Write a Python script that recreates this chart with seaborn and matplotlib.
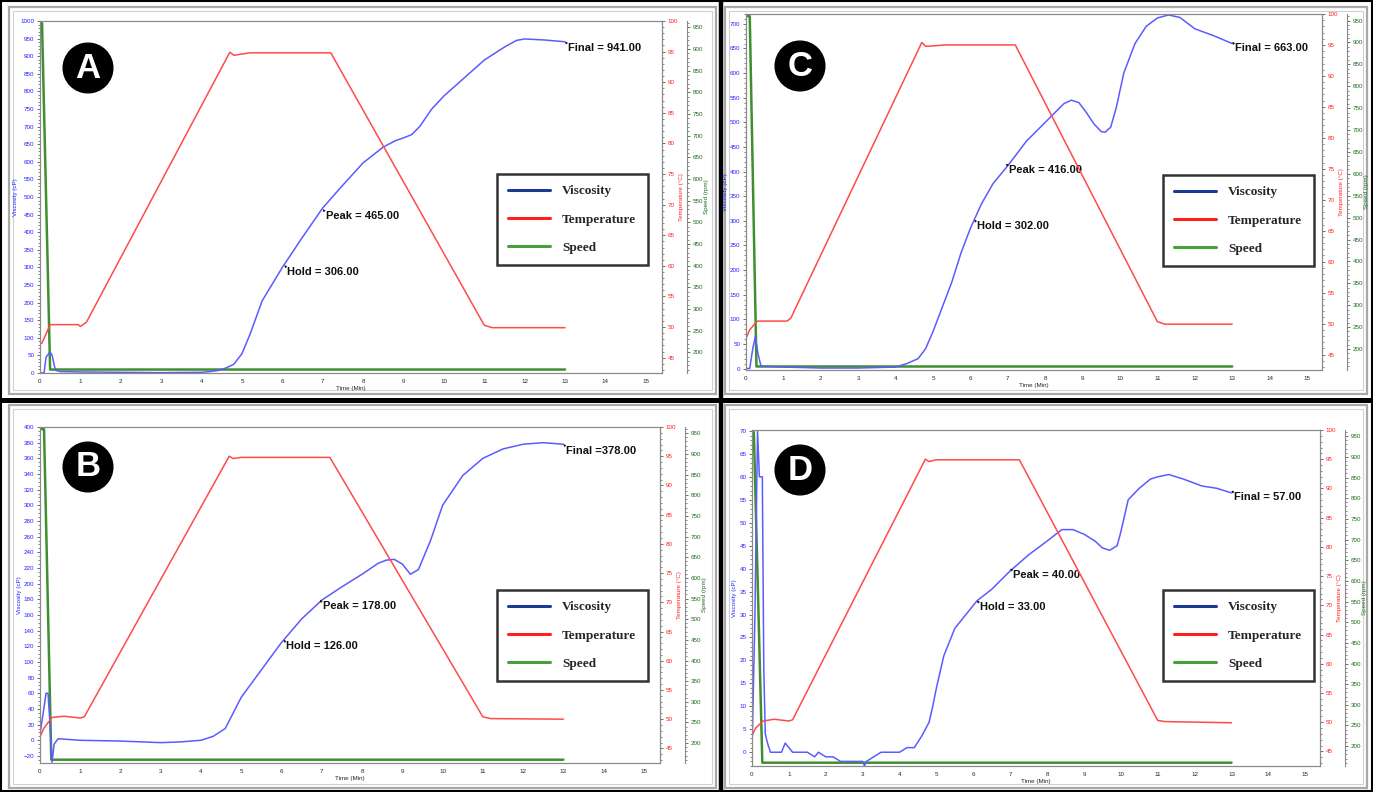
import numpy as np
import pandas as pd
import seaborn as sns
import matplotlib.pyplot as plt
from matplotlib.lines import Line2D
from matplotlib.patches import Rectangle
from matplotlib.ticker import MultipleLocator

# ---- Panel A ----
a_visc_t = [0, 0.1, 0.15, 0.25, 0.3, 0.38, 0.5, 1, 2, 3, 4, 4.2, 4.4, 4.6, 4.8, 5.0, 5.2, 5.5,
            6.0, 6.5, 7.0, 7.5, 8.0, 8.5, 8.8, 9.0, 9.2, 9.4, 9.7, 10.0, 10.5, 11.0, 11.5, 11.8,
            12.0, 12.5, 13.0]
a_visc = [0, 0, 45, 60, 50, 8, 4, 3, 2, 1, 2, 4, 7, 14, 25, 55, 110, 205,
          300, 386, 469, 534, 597, 642, 660, 668, 677, 700, 750, 787, 838, 889, 926, 945,
          949, 946, 941]
a_temp_t = [0, 0.05, 0.25, 0.95, 1.0, 1.15, 4.7, 4.8, 4.9, 5.2, 7.2, 11.0, 11.2, 13.0]
a_temp = [47.2, 47.4, 50.4, 50.4, 50.1, 50.8, 94.9, 94.4, 94.5, 94.8, 94.8, 50.3, 49.9, 49.9]
a_speed_t = [0, 0.05, 0.25, 13.0]
a_speed = [960, 960, 160, 160]
a_notes = [("Hold = 306.00", 6.05, 306), ("Peak = 465.00", 7.0, 465), ("Final = 941.00", 13.0, 941)]

# ---- Panel B ----
b_visc_t = [0, 0.08, 0.15, 0.2, 0.25, 0.3, 0.35, 0.45, 1, 2, 3, 3.5, 4, 4.3, 4.6, 4.8, 5.0,
            5.5, 6.0, 6.5, 7.0, 7.5, 8.0, 8.4, 8.6, 8.8, 9.0, 9.2, 9.4, 9.7, 10.0, 10.5, 11.0,
            11.5, 12.0, 12.5, 13.0]
b_visc = [8, 35, 60, 60, 20, -28, -5, 2, 0, -1, -3, -2, 0, 5, 15, 35, 55,
          90, 125, 155, 179, 196, 212, 226, 230, 231, 225, 212, 218, 255, 300, 338, 360,
          372, 378, 380, 378]
b_temp_t = [0, 0.1, 0.3, 0.6, 1.0, 1.1, 4.7, 4.8, 5.0, 7.2, 11.0, 11.2, 13.0]
b_temp = [47.0, 48.5, 50.3, 50.5, 50.2, 50.4, 95.0, 94.6, 94.8, 94.8, 50.4, 50.1, 50.0]
b_speed_t = [0, 0.1, 0.28, 13.0]
b_speed = [960, 960, 160, 160]
b_notes = [("Hold = 126.00", 6.05, 128), ("Peak = 178.00", 6.95, 179), ("Final =378.00", 13.0, 378)]

# ---- Panel C ----
c_visc_t = [0, 0.1, 0.18, 0.25, 0.32, 0.4, 1, 2, 3, 4.0, 4.3, 4.6, 4.8, 5.0, 5.25, 5.5, 5.75,
            6.0, 6.3, 6.6, 7.0, 7.5, 8.0, 8.5, 8.7, 8.9, 9.1, 9.3, 9.5, 9.6, 9.75, 9.9, 10.1,
            10.4, 10.7, 11.0, 11.3, 11.6, 12.0, 12.5, 13.0]
c_visc = [0, 0, 40, 65, 30, 5, 3, 1, 1, 3, 10, 20, 40, 75, 125, 175, 235,
          285, 335, 375, 412, 462, 500, 538, 545, 540, 520, 497, 481, 480, 490, 530, 600,
          660, 695, 712, 718, 713, 690, 676, 660]
c_temp_t = [0, 0.1, 0.3, 1.1, 1.2, 4.7, 4.8, 4.9, 5.3, 7.2, 11.0, 11.2, 13.0]
c_temp = [47.6, 49.0, 50.4, 50.4, 50.9, 95.4, 94.8, 94.8, 95.0, 95.0, 50.3, 49.9, 49.9]
c_speed_t = [0, 0.1, 0.28, 13.0]
c_speed = [960, 960, 160, 160]
c_notes = [("Hold = 302.00", 6.1, 302), ("Peak = 416.00", 6.95, 416), ("Final = 663.00", 13.0, 663)]

# ---- Panel D ----
d_visc_t = [0, 0.08, 0.15, 0.2, 0.28, 0.32, 0.36, 0.42, 0.5, 0.7, 0.8, 0.9, 1.0, 1.1, 1.5,
            1.7, 1.8, 2.0, 2.2, 2.4, 2.6, 3.0, 3.05, 3.1, 3.3, 3.5, 3.7, 4.0, 4.2, 4.4, 4.6,
            4.8, 4.9, 5.0, 5.2, 5.5, 5.8, 6.1, 6.5, 7.0, 7.5, 8.0, 8.4, 8.7, 9.0, 9.3, 9.5,
            9.7, 9.9, 10.0, 10.2, 10.5, 10.8, 11.0, 11.3, 11.7, 12.2, 12.6, 13.0]
d_visc = [0, 30, 70, 60, 60, 18, 4, 2, 0, 0, 0, 2, 1, 0, 0,
          -1, 0, -1, -1, -2, -2, -2, -3, -2, -1, 0, 0, 0, 1, 1, 3.5,
          6.5, 10, 14, 21, 27, 30, 33, 35.5, 39.5, 43, 46, 48.5, 48.5, 47.5, 46, 44.5,
          44, 45, 48, 55, 57.5, 59.5, 60, 60.5, 59.5, 58, 57.5, 56.5]
d_temp_t = [0, 0.1, 0.3, 0.6, 1.0, 1.1, 4.7, 4.8, 5.0, 7.25, 11.0, 11.2, 13.0]
d_temp = [47.7, 49.0, 50.2, 50.5, 50.2, 50.4, 95.0, 94.6, 94.9, 94.9, 50.3, 50.1, 49.9]
d_speed_t = [0, 0.05, 0.28, 13.0]
d_speed = [960, 960, 160, 160]
d_notes = [("Hold = 33.00", 6.1, 33), ("Peak = 40.00", 7.0, 40), ("Final = 57.00", 13.0, 57)]

legend_labels = ["Viscosity", "Temperature", "Speed"]

W, H = 1373, 792
VISC_C = "#5b5bff"
TEMP_C = "#ff4a4a"
SPEED_C = "#3f8f30"

sns.set_style("white")
plt.rcParams['font.family'] = ['Liberation Sans', 'DejaVu Sans']

fig = plt.figure(figsize=(W / 100, H / 100), dpi=100)


def px_rect(x0, y0, x1, y1):
    return [x0 / W, 1 - y1 / H, (x1 - x0) / W, (y1 - y0) / H]


def style_axis(axis, color, size=4.5):
    axis.tick_params(axis='y', labelsize=size, labelcolor=color, length=2.5, width=0.6,
                     color='#555555', pad=1.5)
    axis.tick_params(axis='y', which='minor', length=1.5, width=0.5, color='#555555')


def draw_panel(rect, letter, letter_xy, vt, v, tt, temp, st, speed, vlim, vstep, vminor,
               vlo, vhi, notes, leg_xy):
    ax = fig.add_axes(px_rect(*rect))
    ax_t = ax.twinx()
    ax_s = ax.twinx()

    sns.lineplot(x=tt, y=temp, ax=ax_t, color=TEMP_C, linewidth=1.1, estimator=None, sort=False)
    sns.lineplot(x=st, y=speed, ax=ax_s, color=SPEED_C, linewidth=1.8, estimator=None, sort=False)
    sns.lineplot(x=vt, y=v, ax=ax, color=VISC_C, linewidth=1.1, estimator=None, sort=False)
    ax.set_zorder(ax_s.get_zorder() + 1)
    ax.patch.set_visible(False)
    ax_t.set_zorder(ax.get_zorder() + 1)

    ax.set_xlim(0, 15.4)
    ax.set_ylim(*vlim)
    ax.set_yticks(np.arange(vlo, vhi + 0.1, vstep))
    ax.yaxis.set_minor_locator(MultipleLocator(vminor))
    ax.set_xticks(np.arange(0, 16, 1))
    ax.tick_params(axis='x', labelsize=4.5, length=2.5, width=0.6, color='#555555', pad=1.5)
    style_axis(ax, '#2222ff')
    ax.set_xlabel("Time (Min)", fontsize=4.5, labelpad=1.5)
    ax.set_ylabel("Viscosity (cP)", fontsize=4.5, color='#2222ff', labelpad=1.5)

    ax_t.set_ylim(42.5, 100)
    ax_t.set_yticks(np.arange(45, 101, 5))
    ax_t.yaxis.set_minor_locator(MultipleLocator(1))
    style_axis(ax_t, '#ff2020')
    ax_t.set_ylabel("Temperature (\u00b0C)", fontsize=4.5, color='#ff2020', labelpad=1)

    ax_s.set_ylim(152, 965)
    ax_s.set_yticks(np.arange(200, 951, 50))
    ax_s.yaxis.set_minor_locator(MultipleLocator(10))
    ax_s.spines['right'].set_position(('outward', 18))
    style_axis(ax_s, '#1c6b1c')
    ax_s.set_ylabel("Speed (rpm)", fontsize=4.5, color='#1c6b1c', labelpad=1)

    for a in (ax, ax_t, ax_s):
        for side in a.spines.values():
            side.set_color('#8a8a8a')
            side.set_linewidth(0.8)
    ax_s.spines['left'].set_visible(False)
    ax_s.spines['top'].set_visible(False)
    ax_s.spines['bottom'].set_visible(False)

    for label, x, y in notes:
        ax.annotate(label, xy=(x, y), xytext=(2, -1), textcoords='offset points',
                    fontsize=8, fontweight='bold', ha='left', va='top', color='#111111')
        ax.annotate("", xy=(x, y), xytext=(2.5, -2.5), textcoords='offset points',
                    arrowprops=dict(arrowstyle='-|>', lw=0.5, color='#111111',
                                    mutation_scale=3))

    fig.text(letter_xy[0] / W, 1 - letter_xy[1] / H, letter, fontsize=25, fontweight='bold',
             color='white', ha='center', va='center',
             bbox=dict(boxstyle='circle,pad=0.24', fc='black', ec='black'))

    handles = [Line2D([], [], color='#1c3a94', lw=2.2),
               Line2D([], [], color='#ff1f1f', lw=2.2),
               Line2D([], [], color='#47a03a', lw=2.2)]
    leg = ax_t.legend(handles, legend_labels, loc='upper left',
                      bbox_to_anchor=(leg_xy[0] / W, 1 - leg_xy[1] / H),
                      bbox_transform=fig.transFigure, borderaxespad=0,
                      prop={'family': 'Liberation Serif', 'weight': 'bold', 'size': 9.5},
                      frameon=True, fancybox=False, handlelength=3.2, handletextpad=0.9,
                      labelspacing=1.2, borderpad=0.85)
    leg.get_frame().set_edgecolor('black')
    leg.get_frame().set_linewidth(1.8)


draw_panel((40, 21, 662, 373), "A", (88, 68), a_visc_t, a_visc, a_temp_t, a_temp,
           a_speed_t, a_speed, (0, 1000), 50, 10, 0, 1000, a_notes, (497, 174))
draw_panel((40, 427, 660, 763), "B", (88, 467), b_visc_t, b_visc, b_temp_t, b_temp,
           b_speed_t, b_speed, (-29, 400), 20, 5, -20, 400, b_notes, (497, 590))
draw_panel((746, 14, 1322, 370), "C", (800, 66), c_visc_t, c_visc, c_temp_t, c_temp,
           c_speed_t, c_speed, (-3, 720), 50, 10, 0, 700, c_notes, (1163, 175))
draw_panel((752, 430, 1320, 766), "D", (800, 470), d_visc_t, d_visc, d_temp_t, d_temp,
           d_speed_t, d_speed, (-3, 70.2), 5, 1, 0, 70, d_notes, (1163, 590))

# panel frames and separators (kept behind the axes)
for x0, y0, x1, y1 in [(9, 7, 716, 394), (725, 7, 1367, 394), (9, 405, 716, 788), (725, 405, 1367, 788)]:
    fig.patches.append(Rectangle((x0 / W, 1 - y1 / H), (x1 - x0) / W, (y1 - y0) / H,
                                 transform=fig.transFigure, fill=False, ec='#a8a8a8', lw=1.6,
                                 zorder=-1))
    fig.patches.append(Rectangle(((x0 + 4) / W, 1 - (y1 - 4) / H), (x1 - x0 - 8) / W, (y1 - y0 - 8) / H,
                                 transform=fig.transFigure, fill=False, ec='#cfcfcf', lw=0.8,
                                 zorder=-1))
fig.add_artist(Line2D([720.5 / W, 720.5 / W], [0, 1], color='black', lw=3.2, transform=fig.transFigure))
fig.add_artist(Line2D([0, 1], [1 - 400 / H, 1 - 400 / H], color='black', lw=3.6, transform=fig.transFigure))
fig.patches.append(Rectangle((0.001, 0.001), 0.998, 0.998, transform=fig.transFigure,
                             fill=False, ec='black', lw=1.5))

fig.savefig("out.png", dpi=100)
